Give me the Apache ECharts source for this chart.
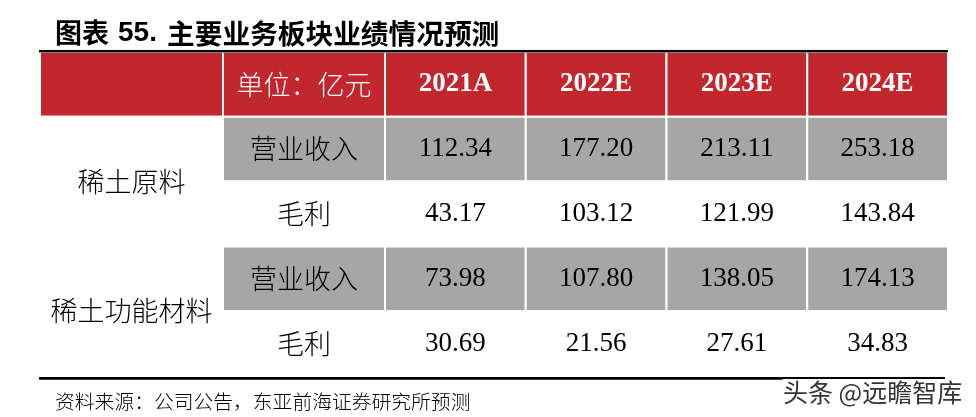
<!DOCTYPE html>
<html>
<head>
<meta charset="utf-8">
<script src="https://cdn.jsdelivr.net/npm/echarts@6/dist/echarts.min.js"></script>
<style>html,body{margin:0;padding:0;background:#fff}#main{width:976px;height:417px}</style>
</head>
<body>
<div id="main"></div>
<script>
// ---- data ----
const titleText = ['图表', '55.', '主要业务板块业绩情况预测'];
const unitLabel = '单位：亿元';
const years = ['2021A', '2022E', '2023E', '2024E'];
const segments = ['稀土原料', '稀土功能材料'];
const metrics = ['营业收入', '毛利'];
const rawRevenue = [112.34, 177.20, 213.11, 253.18];
const rawProfit = [43.17, 103.12, 121.99, 143.84];
const funcRevenue = [73.98, 107.80, 138.05, 174.13];
const funcProfit = [30.69, 21.56, 27.61, 34.83];
const sourceText = '资料来源：公司公告，东亚前海证券研究所预测';
const watermark = '头条 @远瞻智库';

// ---- table structure ----
const rowKeys = ['header', 'r1', 'r2', 'r3', 'r4'];
const valueRows = [rawRevenue, rawProfit, funcRevenue, funcProfit];

const RED = '#C1272D', GRAY = '#A6A6A6';
const CJK = "'Noto Sans CJK SC'";
const SERIF = "'Liberation Serif','Times New Roman',serif";

function fillFor(row) { return row === 0 ? RED : (row === 1 || row === 3 ? GRAY : '#ffffff'); }

const cellsA = [{ col: 0, row: 0, span: 1, text: '' }];
segments.forEach((s, i) => cellsA.push({ col: 0, row: 1 + i * 2, span: 2, text: s }));
const cellsB = [{ col: 0, row: 0, span: 1, text: unitLabel }];
segments.forEach((s, i) => metrics.forEach((m, k) => cellsB.push({ col: 0, row: 1 + i * 2 + k, span: 1, text: m })));
const cellsC = [];
years.forEach((y, j) => cellsC.push({ col: j, row: 0, span: 1, text: y }));
valueRows.forEach((vals, i) => vals.forEach((v, j) => cellsC.push({ col: j, row: i + 1, span: 1, text: v.toFixed(2) })));

function makeRender(cells, kind) {
  return function (params, api) {
    const c = cells[params.dataIndex];
    const p = api.coord([c.col, rowKeys[c.row]]);
    const s = api.size([1, 1]);
    const y0 = p[1] - s[1] / 2;
    const h = s[1] * c.span;
    const x0 = p[0] - s[0] / 2;
    const fill = c.span > 1 ? '#ffffff' : fillFor(c.row);
    const isHeader = c.row === 0;
    const font = kind === 'C' ? ((isHeader ? 'bold ' : '') + '27px ' + SERIF) : ('300 27px ' + CJK);
    return {
      type: 'group',
      children: [
        { type: 'rect', shape: { x: x0, y: y0, width: s[0], height: h },
          style: { fill: fill, stroke: '#ffffff', lineWidth: 2 } },
        { type: 'text', style: { text: c.text, x: p[0], y: y0 + h / 2, align: 'center', verticalAlign: 'middle',
          font: font, fill: isHeader ? '#ffffff' : '#000000' } }
      ]
    };
  };
}

const chart = echarts.init(document.getElementById('main'), null, { renderer: 'canvas' });
const gridTop = 52, gridBottom = 417 - 376;
const option = {
  animation: false,
  backgroundColor: '#ffffff',
  grid: [
    { left: 40, width: 183, top: gridTop, bottom: gridBottom },
    { left: 223, width: 162, top: gridTop, bottom: gridBottom },
    { left: 385, width: 563, top: gridTop, bottom: gridBottom }
  ],
  xAxis: [
    { gridIndex: 0, type: 'category', data: ['segment'], show: false },
    { gridIndex: 1, type: 'category', data: ['metric'], show: false },
    { gridIndex: 2, type: 'category', data: years, show: false }
  ],
  yAxis: [0, 1, 2].map(i => ({ gridIndex: i, type: 'category', data: rowKeys, inverse: true, show: false })),
  series: [
    { type: 'custom', xAxisIndex: 0, yAxisIndex: 0, renderItem: makeRender(cellsA, 'A'),
      data: cellsA.map(c => [c.col, c.row]), silent: true, clip: false },
    { type: 'custom', xAxisIndex: 1, yAxisIndex: 1, renderItem: makeRender(cellsB, 'B'),
      data: cellsB.map(c => [c.col, c.row]), silent: true, clip: false },
    { type: 'custom', xAxisIndex: 2, yAxisIndex: 2, renderItem: makeRender(cellsC, 'C'),
      data: cellsC.map(c => [c.col, c.row]), silent: true, clip: false }
  ],
  graphic: [
    { type: 'text', z: 10, style: { text: titleText[0], x: 55, y: 33, verticalAlign: 'middle', font: 'bold 27px ' + CJK, fill: '#000' } },
    { type: 'text', z: 10, style: { text: titleText[1], x: 118, y: 33, verticalAlign: 'middle', font: "bold 28px 'Liberation Sans',Arial,sans-serif", fill: '#000' } },
    { type: 'text', z: 10, style: { text: titleText[2], x: 167, y: 33, verticalAlign: 'middle', font: 'bold 27.7px ' + CJK, fill: '#000' } },
    { type: 'rect', z: 10, shape: { x: 39, y: 50, width: 909, height: 2.5 }, style: { fill: '#000' } },
    { type: 'rect', z: 10, shape: { x: 39, y: 377, width: 906, height: 2.8 }, style: { fill: '#000' } },
    { type: 'text', z: 10, style: { text: sourceText, x: 55, y: 401, verticalAlign: 'middle', font: '300 19.8px ' + CJK, fill: '#000' } },
    { type: 'text', z: 10, style: { text: watermark, x: 783, y: 392, verticalAlign: 'middle', font: '25px ' + CJK, fill: '#333', textBorderColor: '#fff', textBorderWidth: 1 } }
  ]
};
chart.setOption(option);
</script>
</body>
</html>
